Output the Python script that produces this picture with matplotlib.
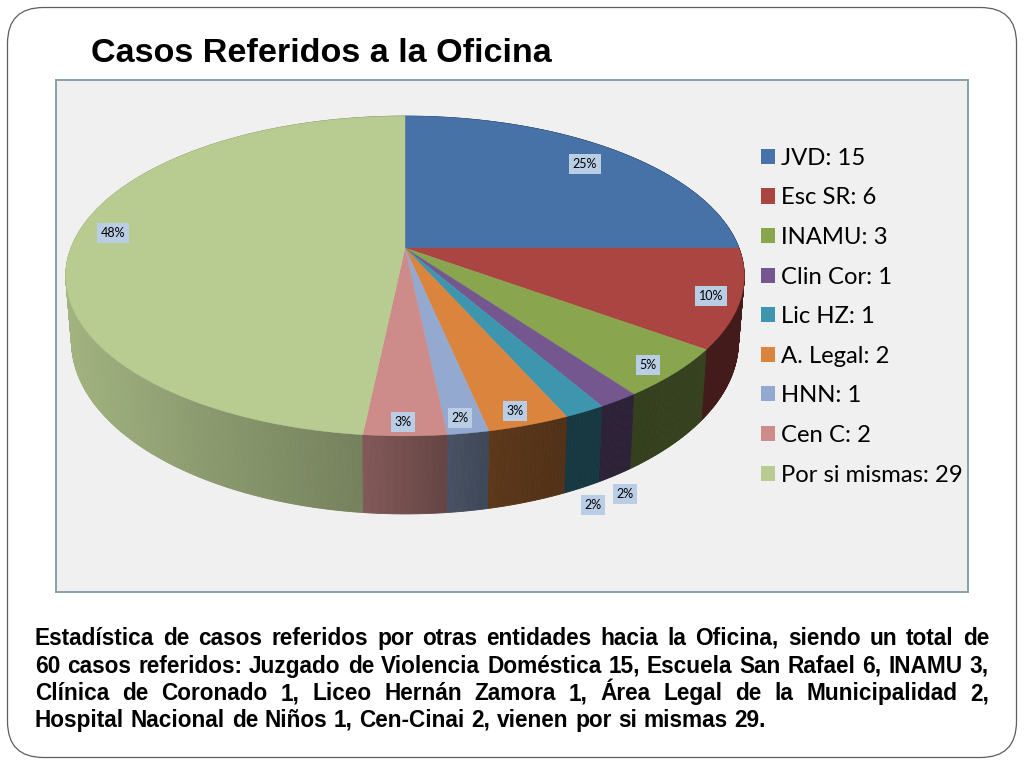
import numpy as np
import matplotlib
matplotlib.use("Agg")
import matplotlib.pyplot as plt
from matplotlib.patches import Polygon, Rectangle, FancyBboxPatch, Patch
from matplotlib.collections import PolyCollection

categories = ["JVD", "Esc SR", "INAMU", "Clin Cor", "Lic HZ", "A. Legal", "HNN", "Cen C", "Por si mismas"]
values = [15, 6, 3, 1, 1, 2, 1, 2, 29]
percent_labels = ["25%", "10%", "5%", "2%", "2%", "3%", "2%", "3%", "48%"]
colors = ["#4672A8", "#AA4542", "#89A54E", "#74578F", "#3D96AE", "#DB843D", "#93A9CF", "#CD8C8A", "#B8CC92"]
title = "Casos Referidos a la Oficina"
body_lines = [
    "Estadística de casos referidos por otras entidades hacia la Oficina, siendo un total de",
    "60 casos referidos: Juzgado de Violencia Doméstica 15, Escuela San Rafael 6, INAMU 3,",
    "Clínica de Coronado 1, Liceo Hernán Zamora 1, Área Legal de la Municipalidad 2,",
    "Hospital Nacional de Niños 1, Cen-Cinai 2, vienen por si mismas 29.",
]

# layout (pixel coordinates of the slide)
label_xy = [(585, 164), (711, 296), (648, 365), (625, 494), (593, 505),
            (515, 411), (460, 418), (403, 422), (113, 233)]
CX, CY, SX, SY, K = 405.0, 248.0, 334.0, 155.0, 0.175
BOT_CY, BOT_SX, BOT_SY = 311.0, 0.983, 1.08

fig = plt.figure(figsize=(10.24, 7.68), dpi=100, facecolor="white")
ax = fig.add_axes([0, 0, 1, 1])
ax.set_xlim(0, 1024)
ax.set_ylim(768, 0)
ax.axis("off")


def top(theta):
    u, v = np.sin(theta), np.cos(theta)
    w = 1 + K * v
    return CX + SX * u / w, CY - SY * v / w


def bottom(theta):
    x, y = top(theta)
    return CX + (x - CX) * BOT_SX, BOT_CY + (y - CY) * BOT_SY


ax.add_patch(FancyBboxPatch((7.5, 7.5), 1009, 750,
                            boxstyle="round,pad=0,rounding_size=36",
                            fc="white", ec="#5E5E5E", lw=0.9, zorder=0.5))
ax.add_patch(Rectangle((56, 80), 912, 512, fc="#F0F0F0", ec="#86A0AC", lw=1.4, zorder=1))

ax.text(91, 62, title, family="Liberation Sans", weight="bold", fontsize=24.6,
        color="black", va="baseline", ha="left", zorder=5)

# pie
fractions = np.array(values, float) / sum(values)
edges = np.concatenate([[0], np.cumsum(fractions)]) * 2 * np.pi

shade_x = [65, 200, 365, 440, 480, 560, 760]
shade_f = [0.88, 0.76, 0.63, 0.50, 0.43, 0.37, 0.40]


def rgb(c):
    return np.array(matplotlib.colors.to_rgb(c))


# sides, back to front
quads, quad_cols, order = [], [], []
for i in range(len(values)):
    th = np.linspace(edges[i], edges[i + 1], max(3, int(values[i] * 16)))
    for a, b in zip(th[:-1], th[1:]):
        xa, ya = top(a)
        xb, yb = top(b)
        xc, yc = bottom(b)
        xd, yd = bottom(a)
        quads.append([(xa, ya), (xb, yb), (xc, yc), (xd, yd)])
        f = np.interp((xa + xb) / 2, shade_x, shade_f)
        quad_cols.append(rgb(colors[i]) * f)
        order.append(ya + yb)
idx = np.argsort(order)
quads = [quads[j] for j in idx]
quad_cols = [quad_cols[j] for j in idx]
ax.add_collection(PolyCollection(quads, facecolors=quad_cols, edgecolors=quad_cols,
                                 linewidths=0.6, zorder=2))

# top face
for i, c in enumerate(colors):
    th = np.linspace(edges[i], edges[i + 1], max(4, int(values[i] * 16)))
    xs, ys = top(th)
    pts = np.column_stack([np.r_[CX, xs], np.r_[CY, ys]])
    ax.add_patch(Polygon(pts, closed=True, fc=c, ec=c, lw=0.3, zorder=3))

# data labels
for (x, y), lab in zip(label_xy, percent_labels):
    ax.text(x, y, lab, family="Lato", fontsize=9, color="black", ha="center", va="center",
            zorder=6, bbox=dict(boxstyle="square,pad=0.3", fc="#B9CDE5", ec="none"))

# legend
handles = [Patch(fc=c, ec="none") for c in colors]
labels = [f"{n}: {v}" for n, v in zip(categories, values)]
ax.legend(handles, labels, loc="upper left", bbox_to_anchor=(752 / 1024, 1 - 139 / 768),
          frameon=False, prop={"family": "Lato", "size": 17.2},
          handlelength=0.59, handleheight=0.59, handletextpad=0.27,
          labelspacing=0.778, borderpad=0.37, borderaxespad=0)

# justified body text
BODY_L, BODY_R = 35, 989
baselines = [645, 673, 700, 727]
fig.canvas.draw()
rend = fig.canvas.get_renderer()
for n, (line, base) in enumerate(zip(body_lines, baselines)):
    words = line.split(" ")
    arts = [ax.text(0, base, w, family="Liberation Sans", weight="bold", fontsize=14.6 * 1.115,
                    color="black", va="baseline", ha="left", zorder=5) for w in words]
    widths = [a.get_window_extent(rend).width for a in arts]
    if n < len(body_lines) - 1:
        gap = (BODY_R - BODY_L - sum(widths)) / (len(words) - 1)
    else:
        gap = 6.7
    x = BODY_L
    for a, w in zip(arts, widths):
        a.set_x(x)
        x += w + gap

fig.savefig("out.png", dpi=100)
